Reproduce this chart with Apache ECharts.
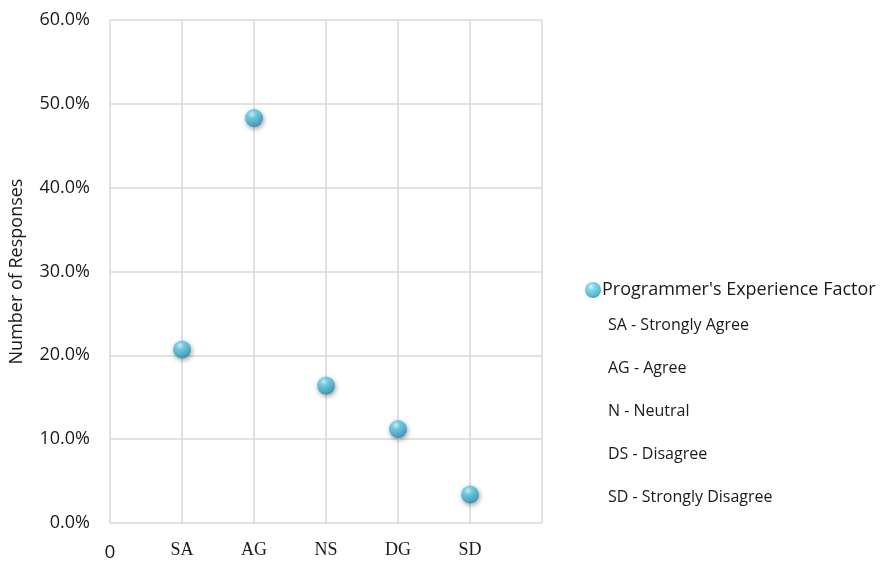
<!DOCTYPE html>
<html>
<head>
<meta charset="utf-8">
<script src="https://cdn.jsdelivr.net/npm/echarts@6/dist/echarts.min.js"></script>
<style>html,body{margin:0;padding:0;background:#fff;}#c{width:893px;height:564px;}</style>
</head>
<body>
<div id="c"></div>
<script>
var categories = ['SA', 'AG', 'NS', 'DG', 'SD'];
var values = [20.7, 48.3, 16.4, 11.2, 3.4];
var seriesName = "Programmer's Experience Factor";
var notes = ['SA - Strongly Agree', 'AG - Agree', 'N - Neutral', 'DS - Disagree', 'SD - Strongly Disagree'];
var yTicks = [0, 10, 20, 30, 40, 50, 60];

var chart = echarts.init(document.getElementById('c'));
var sphere = {
  type: 'radial', x: 0.4, y: 0.3, r: 0.75,
  colorStops: [
    {offset: 0, color: '#d2f6ff'},
    {offset: 0.3, color: '#62cbe6'},
    {offset: 0.75, color: '#34a6cb'},
    {offset: 1, color: '#1f7fa3'}
  ]
};
var data = values.map(function (v, i) { return [i + 1, v]; });
var font = "'Open Sans', 'Noto Sans', sans-serif";
var graphics = notes.map(function (t, i) {
  return {
    type: 'text', x: 608, y: 325 + i * 43,
    style: {text: t, font: "16px " + font, fill: '#1a1a1a', verticalAlign: 'middle'}
  };
});
chart.setOption({
  animation: false,
  backgroundColor: '#fff',
  grid: {left: 110, right: 351, top: 20, bottom: 41, containLabel: false},
  xAxis: {
    type: 'value', min: 0, max: 6, interval: 1,
    axisLine: {show: false}, axisTick: {show: false},
    splitLine: {show: true, lineStyle: {color: '#d9d9d9', width: 1.5}},
    axisLabel: {
      margin: 18,
      formatter: function (v) {
        if (v === 0) return '{s|0}';
        if (v >= 1 && v <= categories.length) return '{t|' + categories[v - 1] + '}';
        return '';
      },
      rich: {
        s: {fontFamily: font, fontSize: 19, color: '#1a1a1a', padding: [2, 0, 0, 0]},
        t: {fontFamily: "'Liberation Serif', 'DejaVu Serif', serif", fontSize: 18, color: '#1a1a1a'}
      }
    }
  },
  yAxis: {
    type: 'value', min: 0, max: 60, interval: 10,
    name: 'Number of Responses', nameLocation: 'middle', nameGap: 84,
    nameTextStyle: {fontFamily: font, fontSize: 18, color: '#1a1a1a'},
    axisLine: {show: false}, axisTick: {show: false},
    splitLine: {show: true, lineStyle: {color: '#d9d9d9', width: 1.5}},
    axisLabel: {
      margin: 20, fontFamily: font, fontSize: 18, color: '#1a1a1a',
      formatter: function (v) { return v.toFixed(1) + '%'; }
    }
  },
  legend: {
    left: 580, top: 276, icon: 'circle', itemWidth: 16, itemHeight: 16, itemGap: 5,
    textStyle: {fontFamily: font, fontSize: 18, color: '#1a1a1a', padding: [0, 0, 0, -4]},
    data: [{name: seriesName, itemStyle: {color: sphere}}]
  },
  graphic: graphics,
  series: [{
    name: seriesName, type: 'scatter', data: data,
    symbol: 'circle', symbolSize: 18,
    itemStyle: {
      color: sphere,
      shadowColor: 'rgba(0,0,0,0.45)', shadowBlur: 5, shadowOffsetX: 1, shadowOffsetY: 2
    }
  }]
});
</script>
</body>
</html>
